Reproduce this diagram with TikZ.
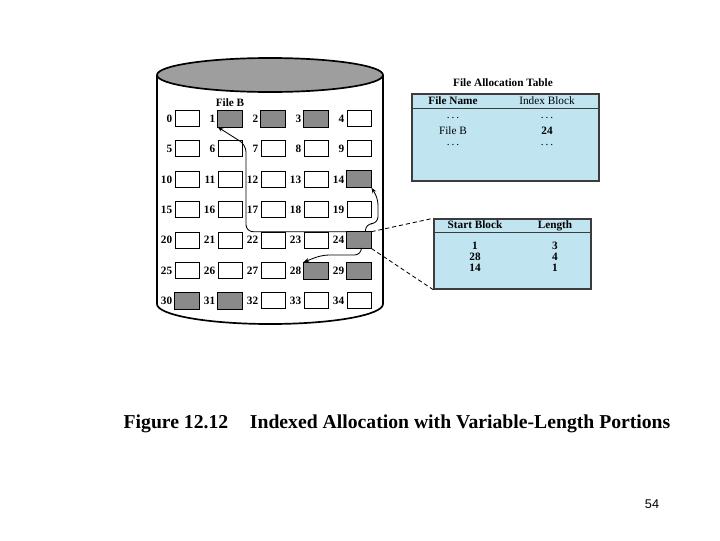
\documentclass[tikz,border=0pt]{standalone}
\usepackage{fontspec}
\setmainfont{Liberation Serif}
\newfontfamily\pagefont{Liberation Sans}
\usetikzlibrary{arrows.meta,calc,positioning}
\definecolor{diskgray}{RGB}{158,158,158}
\definecolor{blockgray}{RGB}{138,138,138}
\definecolor{tableblue}{RGB}{192,229,240}
\definecolor{tableedge}{RGB}{60,60,60}

\begin{document}
\begin{tikzpicture}[x=0.025cm, y=-0.025cm,
    blk/.style={draw, fill=white, line width=0.6pt, minimum width=0.6cm, minimum height=0.4cm, inner sep=0pt},
    num/.style={font=\bfseries\fontsize{8}{9}\selectfont, inner sep=0pt, text height=5.5pt, text depth=0pt},
    link/.style={-{Stealth[length=4pt,width=3pt]}, line width=0.6pt, rounded corners=5pt},
    tab/.style={draw=tableedge, fill=tableblue, line width=1pt, inner sep=0pt},
    txt/.style={font=\fontsize{8}{9}\selectfont, inner sep=0pt, text height=5.5pt, text depth=1.6pt},
    btxt/.style={txt, font=\bfseries\fontsize{8}{9}\selectfont}]
    \useasboundingbox (0,0) rectangle (720,540);
    % disk
    \filldraw[fill=white, line width=1.2pt] (157,75) -- (157,304)
        arc[start angle=180, end angle=0, x radius=113, y radius=20] -- (383,75);
    \filldraw[fill=diskgray, line width=1.2pt] (270,75) ellipse[x radius=113, y radius=17];
    % blocks
    \foreach \i in {0,...,34} {
        \pgfmathtruncatemacro\c{mod(\i,5)}
        \pgfmathtruncatemacro\r{div(\i,5)}
        \node[blk] (b\i) at ({187+43*\c},{118.5+30.4*\r}) {};
        \node[num, left=1.5pt of b\i] (n\i) {\i};
    }
    \foreach \i in {1,2,3,14,24,28,29,30,31}
        \filldraw[fill=blockgray, line width=0.6pt] (b\i.south west) rectangle (b\i.north east);
    \node[btxt] (fileb) at (230,104) {File B};
    % portions of file B
    \draw[link] (b24.north west) -| (246,145) -- (b1.south west);
    \draw[link] ($(b24.north east)+(-6,0)$) -- ++(0,-8) -| (378,198) -- (b14.south east);
    \draw[link] ($(b24.south east)+(-10,0)$) |- (322,255) -- (b28.north west);
    % file allocation table
    \node[btxt] (fattitle) at (503,84) {File Allocation Table};
    \node[tab, minimum width=4.675cm, minimum height=2.175cm] (fat) at (505.5,137.5) {};
    \draw[tableedge, line width=0.8pt] ($(fat.north west)+(0,15)$) -- ($(fat.north east)+(0,15)$);
    \node[btxt] (fname) at (453,102) {File Name};
    \node[txt] (iblock) at (547,102) {Index Block};
    \node[txt] (d1) at (453,116) {.\,.\,.};
    \node[txt] (d2) at (547,116) {.\,.\,.};
    \node[txt] (fb) at (453,132) {File B};
    \node[btxt] (ib) at (547,132) {24};
    \node[txt] (d3) at (453,143) {.\,.\,.};
    \node[txt] (d4) at (547,143) {.\,.\,.};
    % index block 24
    \node[tab, minimum width=3.925cm, minimum height=1.75cm] (st) at (512.5,254) {};
    \draw[tableedge, line width=0.8pt] ($(st.north west)+(0,14)$) -- ($(st.north east)+(0,14)$);
    \node[btxt] (sbh) at (475,226) {Start Block};
    \node[btxt] (lh) at (555,226) {Length};
    \node[btxt] (s1) at (475,247) {1};
    \node[btxt] (l1) at (555,247) {3};
    \node[btxt] (s2) at (475,258) {28};
    \node[btxt] (l2) at (555,258) {4};
    \node[btxt] (s3) at (475,269) {14};
    \node[btxt] (l3) at (555,269) {1};
    \draw[dashed, dash pattern=on 3pt off 2pt, line width=0.6pt] (b24.north east) -- (st.north west);
    \draw[dashed, dash pattern=on 3pt off 2pt, line width=0.6pt] (b24.south east) -- (st.south west);
    % caption
    \node[font=\bfseries\fontsize{14}{16}\selectfont, inner sep=0pt] (cap) at (397,424)
        {Figure 12.12\hspace{1.1em}Indexed Allocation with Variable-Length Portions};
    \node[font=\pagefont\fontsize{9}{10}\selectfont, inner sep=0pt] (pg) at (652,504) {54};
\end{tikzpicture}
\end{document}
